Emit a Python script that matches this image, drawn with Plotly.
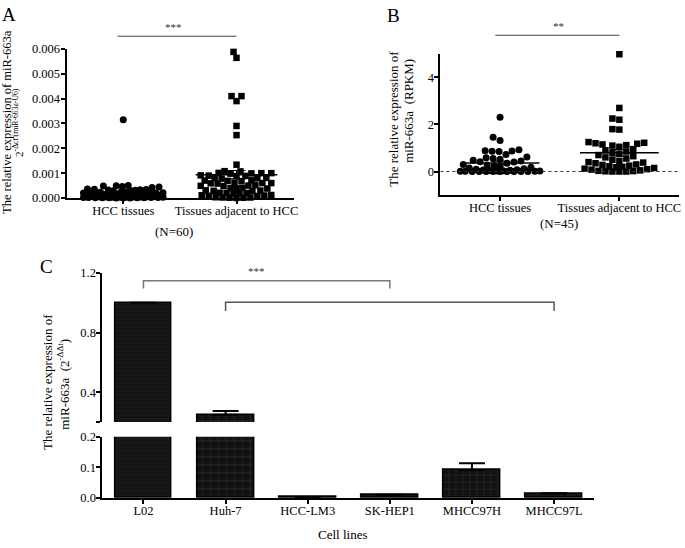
import numpy as np
import plotly.graph_objects as go

# ---------------- data ----------------
groups = ["HCC tissues", "Tissues adjacent to HCC"]

a_hcc = [0.00315,
         0.00050, 0.00049, 0.00046, 0.00044, 0.00048, 0.00042,
         0.00035, 0.00033, 0.00031, 0.00034, 0.00030, 0.00032, 0.00036, 0.00029,
         0.00022, 0.00020, 0.00019, 0.00021, 0.00018, 0.00023, 0.00020, 0.00017, 0.00024, 0.00019,
         0.00012, 0.00010, 0.00011, 0.00009, 0.00013, 0.00010, 0.00008, 0.00011, 0.00012, 0.00009,
         0.00010, 0.00014,
         0.00006, 0.00005, 0.00004, 0.00006, 0.00003, 0.00005, 0.00002, 0.00004, 0.00003, 0.00001,
         0.00002, 0.00004, 0.00001, 0.00003, 0.00002, 0.00001, 0.00000, 0.00002, 0.00001, 0.00000,
         0.00003, 0.00000, 0.00001]
a_adj = [0.00588, 0.00564, 0.00410, 0.00390, 0.00410, 0.00290, 0.00253, 0.00134,
         0.00108, 0.00107,
         0.00101, 0.00100, 0.00099, 0.00100, 0.00098,
         0.00091, 0.00089, 0.00090, 0.00088,
         0.00081, 0.00079, 0.00080, 0.00078,
         0.00071, 0.00069, 0.00070, 0.00068,
         0.00061, 0.00059, 0.00060, 0.00058, 0.00060,
         0.00051, 0.00049, 0.00050, 0.00048,
         0.00041, 0.00039, 0.00040, 0.00038,
         0.00031, 0.00029, 0.00030, 0.00028,
         0.00021, 0.00019, 0.00020, 0.00018, 0.00020,
         0.00011, 0.00009, 0.00010, 0.00008, 0.00012,
         0.00002, 0.00003, 0.00001, 0.00002, 0.00000, 0.00001]

b_hcc = [2.30, 1.45, 1.32, 0.92, 0.88, 0.87, 0.86, 0.85, 0.72, 0.62, 0.58, 0.55, 0.52,
         0.48, 0.45, 0.42, 0.40, 0.35, 0.30, 0.28, 0.25, 0.22, 0.18, 0.15, 0.12, 0.10,
         0.08, 0.06, 0.05, 0.04, 0.03, 0.02, 0.02, 0.01, 0.01, 0.01,
         0.0, 0.0, 0.0, 0.0, 0.0, 0.0, 0.0, 0.0, 0.0]
b_adj = [4.98, 2.70, 2.25, 2.20, 1.80, 1.78, 1.25, 1.22, 1.20, 1.18, 1.15, 1.12, 1.10, 1.05,
         0.95, 0.90, 0.85, 0.80, 0.75, 0.70, 0.65, 0.60, 0.55, 0.50,
         0.45, 0.40, 0.38, 0.35, 0.30, 0.28, 0.25, 0.22, 0.20, 0.18,
         0.15, 0.12, 0.10, 0.08, 0.05, 0.03, 0.02, 0.01, 0.0, 0.0, 0.0]

cell_lines = ["L02", "Huh-7", "HCC-LM3", "SK-HEP1", "MHCC97H", "MHCC97L"]
c_vals = [1.0, 0.25, 0.003, 0.010, 0.092, 0.015]
c_err = [0.0, 0.025, 0.0, 0.001, 0.022, 0.001]

# ---------------- geometry ----------------
W, H = 685, 548
FONT = "Liberation Serif"


def P(x):
    return x / W


def Q(y):
    return 1 - y / H


# panel A
A_X = (67, 296); A_Y = (196, 43); A_XR = [0.5, 2.51]; A_YR = [0, 0.006]
# panel B
B_X = (443, 683); B_Y = (193, 48); B_XR = [0.5, 2.5]; B_YR = [-1, 5]
# panel C
C_X = (103, 597); C_XR = [-0.5, 5.48]
C_YLOW = (504, 441); C_YHIGH = (426, 273)


def swarm(vals, ppy, ppx, diam, maxw):
    vals = np.asarray(vals, dtype=float)
    order = np.argsort(vals, kind="stable")
    cand = sorted(range(-maxw, maxw + 1), key=lambda c: (abs(c), c))
    placed = []
    off = np.zeros(len(vals))
    for i in order:
        y = vals[i] * ppy
        best, bestd = 0, -1.0
        for c in cand:
            d = min((np.hypot(c - px, y - py) for px, py in placed), default=1e9)
            if d >= diam:
                best = c
                break
            if d > bestd + 0.3:
                bestd, best = d, c
        placed.append((best, y))
        off[i] = best / ppx
    return off


fig = go.Figure()


def dot_panel(xa, ya, xpx, ypx, xr, yr, data, symbols, sizes, maxws, halfw):
    ppx = (xpx[1] - xpx[0]) / (xr[1] - xr[0])
    ppy = (ypx[0] - ypx[1]) / (yr[1] - yr[0])
    for k, (vals, sym, sz, mw) in enumerate(zip(data, symbols, sizes, maxws)):
        c = k + 1
        off = swarm(vals, ppy, ppx, sz, mw)
        fig.add_trace(go.Scatter(x=c + off, y=vals, mode="markers", xaxis=xa, yaxis=ya,
                                 marker=dict(symbol=sym, size=sz, color="black",
                                             line=dict(width=0)),
                                 cliponaxis=False, showlegend=False, hoverinfo="y"))
        m = float(np.mean(vals))
        sem = float(np.std(vals, ddof=1) / np.sqrt(len(vals)))
        fig.add_trace(go.Scatter(x=[c - halfw, c + halfw], y=[m, m], mode="lines",
                                 xaxis=xa, yaxis=ya, line=dict(color="black", width=1.5),
                                 showlegend=False, hoverinfo="skip"))
        fig.add_trace(go.Scatter(x=[c], y=[m], mode="markers", xaxis=xa, yaxis=ya,
                                 marker=dict(size=1, color="rgba(0,0,0,0)"),
                                 error_y=dict(type="data", array=[sem], color="black",
                                              thickness=1.2, width=9),
                                 showlegend=False, hoverinfo="skip"))


dot_panel("x", "y", A_X, A_Y, A_XR, A_YR, [a_hcc, a_adj], ["circle", "square"], [7, 6.5], [40, 36], 0.36)
dot_panel("x2", "y2", B_X, B_Y, B_XR, B_YR, [b_hcc, b_adj], ["circle", "square"], [7, 6.5], [40, 40], 0.33)

# panel C bars (drawn in both broken-axis parts)
xs = list(range(len(cell_lines)))
for ya in ["y3", "y4"]:
    fig.add_trace(go.Bar(x=xs, y=c_vals, xaxis="x3", yaxis=ya, width=0.69,
                         marker=dict(color="#111111", line=dict(color="black", width=1.5),
                                     pattern=dict(shape=["+", "+", "", "", "+", "+"],
                                                  size=[4, 8, 5, 5, 7, 6],
                                                  solidity=0.3,
                                                  fgcolor="#333333")),
                         error_y=dict(type="data", array=c_err,
                                      arrayminus=[0] * len(c_err), symmetric=False,
                                      color="black", thickness=2, width=13),
                         showlegend=False, hoverinfo="y"))

axis_common = dict(showline=True, linecolor="black", linewidth=2, ticks="outside",
                   tickcolor="black", tickwidth=2, showgrid=False, zeroline=False,
                   tickfont=dict(family=FONT, size=12.5, color="black"))
xcat = dict(ticklen=4, ticklabelstandoff=-4, **axis_common)
ynum = dict(ticklen=4, ticklabelstandoff=-2, **axis_common)

fig.update_layout(
    width=W, height=H, margin=dict(l=0, r=0, t=0, b=0),
    paper_bgcolor="white", plot_bgcolor="rgba(0,0,0,0)",
    bargap=0,
    xaxis=dict(domain=[P(A_X[0]), P(A_X[1])], range=A_XR, anchor="y",
               tickvals=[1, 2], ticktext=groups, **xcat),
    yaxis=dict(domain=[Q(A_Y[0]), Q(A_Y[1])], range=A_YR, anchor="x",
               tickvals=[0, 0.001, 0.002, 0.003, 0.004, 0.005, 0.006], tickformat=".3f",
               **ynum),
    xaxis2=dict(domain=[P(B_X[0]), P(B_X[1])], range=B_XR, anchor="y2",
                tickvals=[1, 2], ticktext=groups, **xcat),
    yaxis2=dict(domain=[Q(B_Y[0]), Q(B_Y[1])], range=B_YR, anchor="x2",
                tickvals=[0, 2, 4], **ynum),
    xaxis3=dict(domain=[P(C_X[0]), P(C_X[1])], range=C_XR, anchor="y3",
                tickvals=xs, ticktext=cell_lines, **xcat),
    yaxis3=dict(domain=[Q(C_YLOW[0]), Q(C_YLOW[1])], range=[0, 0.2], anchor="x3",
                tickvals=[0, 0.1, 0.2], tickformat=".1f", **ynum),
    yaxis4=dict(domain=[Q(C_YHIGH[0]), Q(C_YHIGH[1])], range=[0.2, 1.2], anchor="x3",
                tickvals=[0.2, 0.4, 0.8, 1.2], ticktext=["", "0.4", "0.8", "1.2"],
                **ynum),
)

shapes = []
# significance lines A, B
shapes.append(dict(type="line", xref="x", yref="paper", x0=0.95, x1=2.0, y0=Q(30), y1=Q(30),
                   line=dict(color="#444", width=1)))
shapes.append(dict(type="line", xref="x2", yref="paper", x0=0.96, x1=2.0, y0=Q(29), y1=Q(29),
                   line=dict(color="#444", width=1)))
# dotted zero line B
shapes.append(dict(type="line", xref="x2", yref="y2", x0=B_XR[0], x1=B_XR[1], y0=0, y1=0,
                   line=dict(color="#333", width=1, dash="dot")))
# brackets C
shapes.append(dict(type="path", xref="x3", yref="paper",
                   path=f"M 0 {Q(289)} L 0 {Q(281)} L 3 {Q(281)} L 3 {Q(289)}",
                   line=dict(color="#777", width=1.5)))
shapes.append(dict(type="path", xref="x3", yref="paper",
                   path=f"M 1 {Q(312)} L 1 {Q(303)} L 5 {Q(303)} L 5 {Q(312)}",
                   line=dict(color="#555", width=1.5)))
fig.update_layout(shapes=shapes)


def ann(x, y, text, size=12.5, angle=0, color="black"):
    fig.add_annotation(x=P(x), y=Q(y), xref="paper", yref="paper", text=text, showarrow=False,
                       textangle=angle, xanchor="center", yanchor="middle",
                       font=dict(family=FONT, size=size, color=color))


ann(9, 8, "A", 19)
ann(396, 9, "B", 19)
ann(47, 266, "C", 19)
ann(175, 21, "***", 11, color="#333")
ann(562, 20, "**", 11, color="#333")
ann(258, 271, "***", 11, color="#333")
ann(175, 230, "(N=60)", 13)
ann(562, 222, "(N=45)", 13)
ann(345, 541, "Cell lines", 13)
ann(7, 118, "The relative expression of miR-663a", 12.5, -90)
ann(18, 118, "2<sup>-Δct (miR-663a-U6)</sup>", 11, -90)
ann(395, 115, "The relative expression of", 13, -90)
ann(411, 107, "miR-663a  (RPKM)", 13, -90)
ann(47, 385, "The relative expression of", 13, -90)
ann(64, 387, "miR-663a  (2<sup>-ΔΔt</sup>)", 13, -90)

fig.write_html("out.html", config={"displayModeBar": False},
               post_script="document.body.style.margin='0px';")
